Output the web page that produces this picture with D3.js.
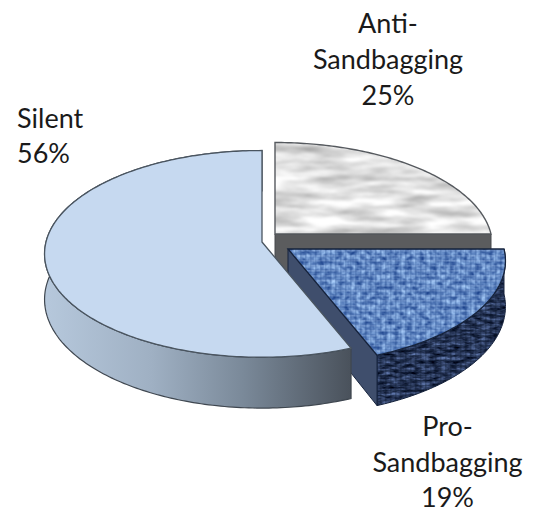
<!DOCTYPE html>
<html>
<head>
<meta charset="utf-8">
<script src="https://cdn.jsdelivr.net/npm/d3@7"></script>
<style>
  html, body { margin: 0; padding: 0; background: #fff; }
  text { font-family: Lato, "Open Sans", sans-serif; font-size: 27px; fill: #1a1a1a; }
</style>
</head>
<body>
<svg id="chart" width="535" height="513"></svg>
<script>
// Share of positions by stance
const categories = ["Anti-Sandbagging", "Pro-Sandbagging", "Silent"];
const shares = [25, 19, 56];
const labelLines = [["Anti-", "Sandbagging", "25%"], ["Pro-", "Sandbagging", "19%"], ["Silent", "56%"]];

// Exploded slice layout: apex of each slice, and where its label sits
const apexes = [{ x: 275, y: 234 }, { x: 288, y: 249 }, { x: 262, y: 242 }];
const labelAnchors = [
  { x: 388, y: 33, lead: 36, anchor: "middle" },
  { x: 447.5, y: 436, lead: 35.5, anchor: "middle" },
  { x: 17, y: 128, lead: 35, anchor: "start" }
];

const radiusX = 216, radiusY = 102, tilt = 0.115, depth = 45;

const svg = d3.select("#chart");
const defs = svg.append("defs");

const xScale = d3.scaleLinear().domain([-1, 1]).range([-radiusX, radiusX]);
const yScale = d3.scaleLinear().domain([-1, 1]).range([-radiusY, radiusY]);

// Perspective projection of a unit disc point; v grows toward the viewer
function project(apex, u, v, drop) {
  const s = 1 / (1 - tilt * v);
  return [apex.x + xScale(u) * s, apex.y + (yScale(v) + drop) * s];
}
function rimPoint(apex, angle, drop) {
  return project(apex, Math.sin(angle), -Math.cos(angle), drop);
}
function rim(apex, a0, a1, drop) {
  const n = Math.max(2, Math.ceil((a1 - a0) * 60));
  return d3.range(n + 1).map(i => rimPoint(apex, a0 + (a1 - a0) * i / n, drop));
}
const line = d3.line().curve(d3.curveLinear);
const closed = pts => line(pts) + "Z";

// Surface materials
function noiseFilter(id, freq, octaves, seed, k, base, blur) {
  const f = defs.append("filter").attr("id", id)
    .attr("x", "-5%").attr("y", "-5%").attr("width", "110%").attr("height", "110%")
    .attr("color-interpolation-filters", "sRGB");
  f.append("feTurbulence").attr("type", "fractalNoise").attr("baseFrequency", freq)
    .attr("numOctaves", octaves).attr("seed", seed).attr("result", "n");
  f.append("feColorMatrix").attr("in", "n").attr("type", "matrix").attr("result", "c")
    .attr("values", [
      k[0], 0, 0, 0, base[0],
      k[1], 0, 0, 0, base[1],
      k[2], 0, 0, 0, base[2],
      0, 0, 0, 0, 1].join(" "));
  f.append("feGaussianBlur").attr("in", "c").attr("stdDeviation", blur).attr("result", "b");
  f.append("feComposite").attr("in", "b").attr("in2", "SourceAlpha").attr("operator", "in");
}
noiseFilter("marble", "0.02 0.11", 4, 7, [0.6, 0.6, 0.6], [0.58, 0.58, 0.58], 0.8);
noiseFilter("denimTop", "0.16 0.2", 2, 3, [0.75, 0.75, 0.6], [0.0, 0.15, 0.46], 0.6);
noiseFilter("denimSide", "0.1 0.28", 3, 11, [0.6, 0.7, 0.9], [-0.13, -0.12, -0.08], 0.5);

function weave(id, color, lineColor, opacity) {
  const p = defs.append("pattern").attr("id", id).attr("patternUnits", "userSpaceOnUse")
    .attr("width", 5).attr("height", 5);
  p.append("rect").attr("width", 5).attr("height", 1.6).attr("fill", color).attr("opacity", opacity);
  p.append("rect").attr("width", 1.6).attr("height", 5).attr("fill", lineColor).attr("opacity", opacity);
}
weave("weaveTop", "#a9c4ee", "#2f5596", 0.3);
weave("weaveSide", "#0e1a30", "#0e1a30", 0.3);

const silentSide = defs.append("linearGradient").attr("id", "silentSide")
  .attr("gradientUnits", "userSpaceOnUse").attr("x1", 45).attr("x2", 350).attr("y1", 0).attr("y2", 0);
[[0, "#b6c8dc"], [0.35, "#9fb0c3"], [0.65, "#7a8999"], [1, "#4a525c"]].forEach(([o, c]) =>
  silentSide.append("stop").attr("offset", o).attr("stop-color", c));

const slices = d3.pie().sort(null).value(d => d).startAngle(0).endAngle(2 * Math.PI)(shares);
const [anti, pro, silent] = slices;
const [antiApex, proApex, silentApex] = apexes;
const edgeGrey = "#55595e", edgeNavy = "#16233c";

function outerWall(apex, d) {
  const a = rim(apex, d.startAngle, d.endAngle, 0);
  const b = rim(apex, d.startAngle, d.endAngle, depth).reverse();
  return closed(a.concat(b));
}
function cutWall(apex, angle) {
  return closed([
    project(apex, 0, 0, 0), rimPoint(apex, angle, 0),
    rimPoint(apex, angle, depth), project(apex, 0, 0, depth)
  ]);
}
function topFace(apex, d) {
  return closed([[apex.x, apex.y]].concat(rim(apex, d.startAngle, d.endAngle, 0)));
}

// Anti-Sandbagging: marble top over a flat grey wall
const gAnti = svg.append("g").attr("class", "slice").datum(anti);
gAnti.append("path").attr("d", cutWall(antiApex, anti.endAngle))
  .attr("fill", "#5b5c5e").attr("stroke", "#47494c").attr("stroke-width", 1);
gAnti.append("path").attr("d", topFace(antiApex, anti)).attr("fill", "#000").attr("filter", "url(#marble)");
gAnti.append("path").attr("d", topFace(antiApex, anti)).attr("fill", "none")
  .attr("stroke", edgeGrey).attr("stroke-width", 1.4);

// Pro-Sandbagging: denim weave on the top and rim
const gPro = svg.append("g").attr("class", "slice").datum(pro);
gPro.append("path").attr("d", outerWall(proApex, pro)).attr("fill", "#000").attr("filter", "url(#denimSide)");
gPro.append("path").attr("d", outerWall(proApex, pro)).attr("fill", "url(#weaveSide)");
gPro.append("path").attr("d", outerWall(proApex, pro)).attr("fill", "none")
  .attr("stroke", edgeNavy).attr("stroke-width", 1);
gPro.append("path").attr("d", cutWall(proApex, pro.endAngle))
  .attr("fill", "#3f4e6c").attr("stroke", edgeNavy).attr("stroke-width", 1);
gPro.append("path").attr("d", topFace(proApex, pro)).attr("fill", "#000").attr("filter", "url(#denimTop)");
gPro.append("path").attr("d", topFace(proApex, pro)).attr("fill", "url(#weaveTop)");
gPro.append("path").attr("d", topFace(proApex, pro)).attr("fill", "none")
  .attr("stroke", edgeNavy).attr("stroke-width", 1.3);

// Silent: pale blue top with a shaded rim
const gSilent = svg.append("g").attr("class", "slice").datum(silent);
gSilent.append("path").attr("d", outerWall(silentApex, silent))
  .attr("fill", "url(#silentSide)").attr("stroke", "#3f4750").attr("stroke-width", 1.2);
gSilent.append("path").attr("d", topFace(silentApex, silent))
  .attr("fill", "#c6d9f0").attr("stroke", "#4a5560").attr("stroke-width", 1.3);

// Category labels
svg.selectAll("text.label").data(labelLines).join("text")
  .attr("class", "label")
  .attr("text-anchor", (d, i) => labelAnchors[i].anchor)
  .attr("aria-label", (d, i) => categories[i])
  .each(function (lines, i) {
    const a = labelAnchors[i];
    d3.select(this).selectAll("tspan").data(lines).join("tspan")
      .attr("x", a.x).attr("y", (t, j) => a.y + j * a.lead).text(t => t);
  });
</script>
</body>
</html>
